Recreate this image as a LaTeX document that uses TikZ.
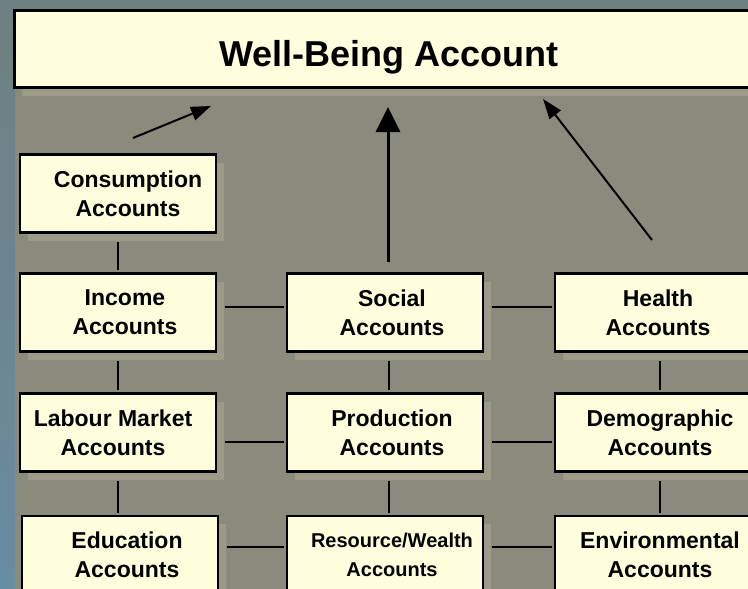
\documentclass[tikz,border=0pt]{standalone}
\usepackage{fontspec}
\setmainfont{Liberation Sans}
\usepackage{tikz}
\usetikzlibrary{arrows.meta}
\usetikzlibrary{shadows}
\usepackage{color}
\definecolor{panelgray}{RGB}{139, 139, 125}
\definecolor{shadegray}{RGB}{157, 155, 135}
\definecolor{paleyellow}{RGB}{255, 255, 221}
\definecolor{stripteal}{RGB}{110, 128, 128}
\definecolor{stripblue}{RGB}{104, 140, 162}

\begin{document}
\begin{tikzpicture}[x=1pt, y=-1pt,
    account/.style={draw=black, line width=2.5pt, fill=paleyellow,
        minimum width=196pt, minimum height=78pt, align=center,
        font=\fontsize{23}{29}\selectfont\bfseries,
        general shadow={shadow xshift=-1.5pt, shadow yshift=1.5pt, fill=white},
        drop shadow={shadow xshift=8pt, shadow yshift=-8pt, fill=shadegray, opacity=1}},
    caption/.style={align=center, inner sep=0pt, xshift=7pt,
        font=\fontsize{23}{29}\selectfont\bfseries},
    header/.style={account, line width=3pt, minimum width=750pt, minimum height=77pt,
        text height=36pt, text depth=1pt, font=\fontsize{36}{40}\selectfont\bfseries,
        drop shadow={shadow xshift=8pt, shadow yshift=-9pt, fill=shadegray, opacity=1}},
    link/.style={line width=1.8pt, shorten <=8pt, shorten >=2pt},
    feed/.style={line width=2pt, -{Triangle[width=14pt, length=20pt]}},
    mainfeed/.style={line width=3pt, -{Triangle[width=24pt, length=25pt]}}]
    % Background
    \useasboundingbox (0, 0) rectangle (748, 589);
    \fill[panelgray]                                   (0, 0) rectangle (748, 589);
    \fill[stripteal]                                   (0, 0) rectangle (748, 10);
    \shade[top color=stripteal, bottom color=stripblue] (0, 0) rectangle (15, 589);
    % Top account
    \node[header] (wellbeing) at (389, 48.5) {Well-Being Account};
    % Left column
    \node[account, label={[caption, xshift=3pt]center:{Consumption\\Accounts}}]
                   (consumption) at (118, 193.5) {};
    \node[account, label={[caption]center:{Income\\Accounts}}]
                   (income)      at (118, 312.5) {};
    \node[account, label={[caption, xshift=-12pt]center:{Labour Market\\Accounts}}]
                   (labour)      at (118, 432.5) {};
    \node[account, label={[caption]center:{Education\\Accounts}}]
                   (education)   at (120, 555)   {};
    % Middle column
    \node[account, label={[caption]center:{Social\\Accounts}}]
                   (social)      at (385, 312.5) {};
    \node[account, label={[caption]center:{Production\\Accounts}}]
                   (production)  at (385, 432.5) {};
    \node[account, label={[caption, font=\fontsize{20}{29}\selectfont\bfseries]center:{Resource/Wealth\\Accounts}}]
                   (resource)    at (385, 555)   {};
    % Right column
    \node[account, label={[caption, xshift=-2pt]center:{Health\\Accounts}}]
                   (health)      at (653, 312.5) {};
    \node[account, label={[caption]center:{Demographic\\Accounts}}]
                   (demographic) at (653, 432.5) {};
    \node[account, label={[caption]center:{Environmental\\Accounts}}]
                   (environment) at (653, 555)   {};
    % Vertical links
    \draw[link] (consumption.south)             -- (income.north);
    \draw[link] (income.south)                  -- (labour.north);
    \draw[link] (labour.south)                  -- (labour.south |- education.north);
    \draw[link] ([xshift=4pt]social.south)      -- ([xshift=4pt]production.north);
    \draw[link] ([xshift=4pt]production.south)  -- ([xshift=4pt]resource.north);
    \draw[link] ([xshift=7pt]health.south)      -- ([xshift=7pt]demographic.north);
    \draw[link] ([xshift=7pt]demographic.south) -- ([xshift=7pt]environment.north);
    % Horizontal links
    \draw[link] ([yshift=5.5pt]income.east)      -- ([yshift=5.5pt]social.west);
    \draw[link] ([yshift=5.5pt]social.east)      -- ([yshift=5.5pt]health.west);
    \draw[link] ([yshift=-9.5pt]labour.east)     -- ([yshift=-9.5pt]production.west);
    \draw[link] ([yshift=-9.5pt]production.east) -- ([yshift=-9.5pt]demographic.west);
    \draw[link] ([yshift=8pt]education.east)     -- ([yshift=8pt]resource.west);
    \draw[link] ([yshift=8pt]resource.east)      -- ([yshift=8pt]environment.west);
    % Feeds into the well-being account
    \coordinate (leftfoot)  at (133, 138);
    \coordinate (lefttip)   at (211, 106);
    \coordinate (midtip)    at (388, 107);
    \coordinate (rightfoot) at (652, 240);
    \coordinate (righttip)  at (543, 99);
    \draw[feed]                    (leftfoot)                -- (lefttip);
    \draw[mainfeed, shorten <=10pt] ([xshift=3pt]social.north) -- (midtip);
    \draw[feed]                    (rightfoot)               -- (righttip);
\end{tikzpicture}
\end{document}
